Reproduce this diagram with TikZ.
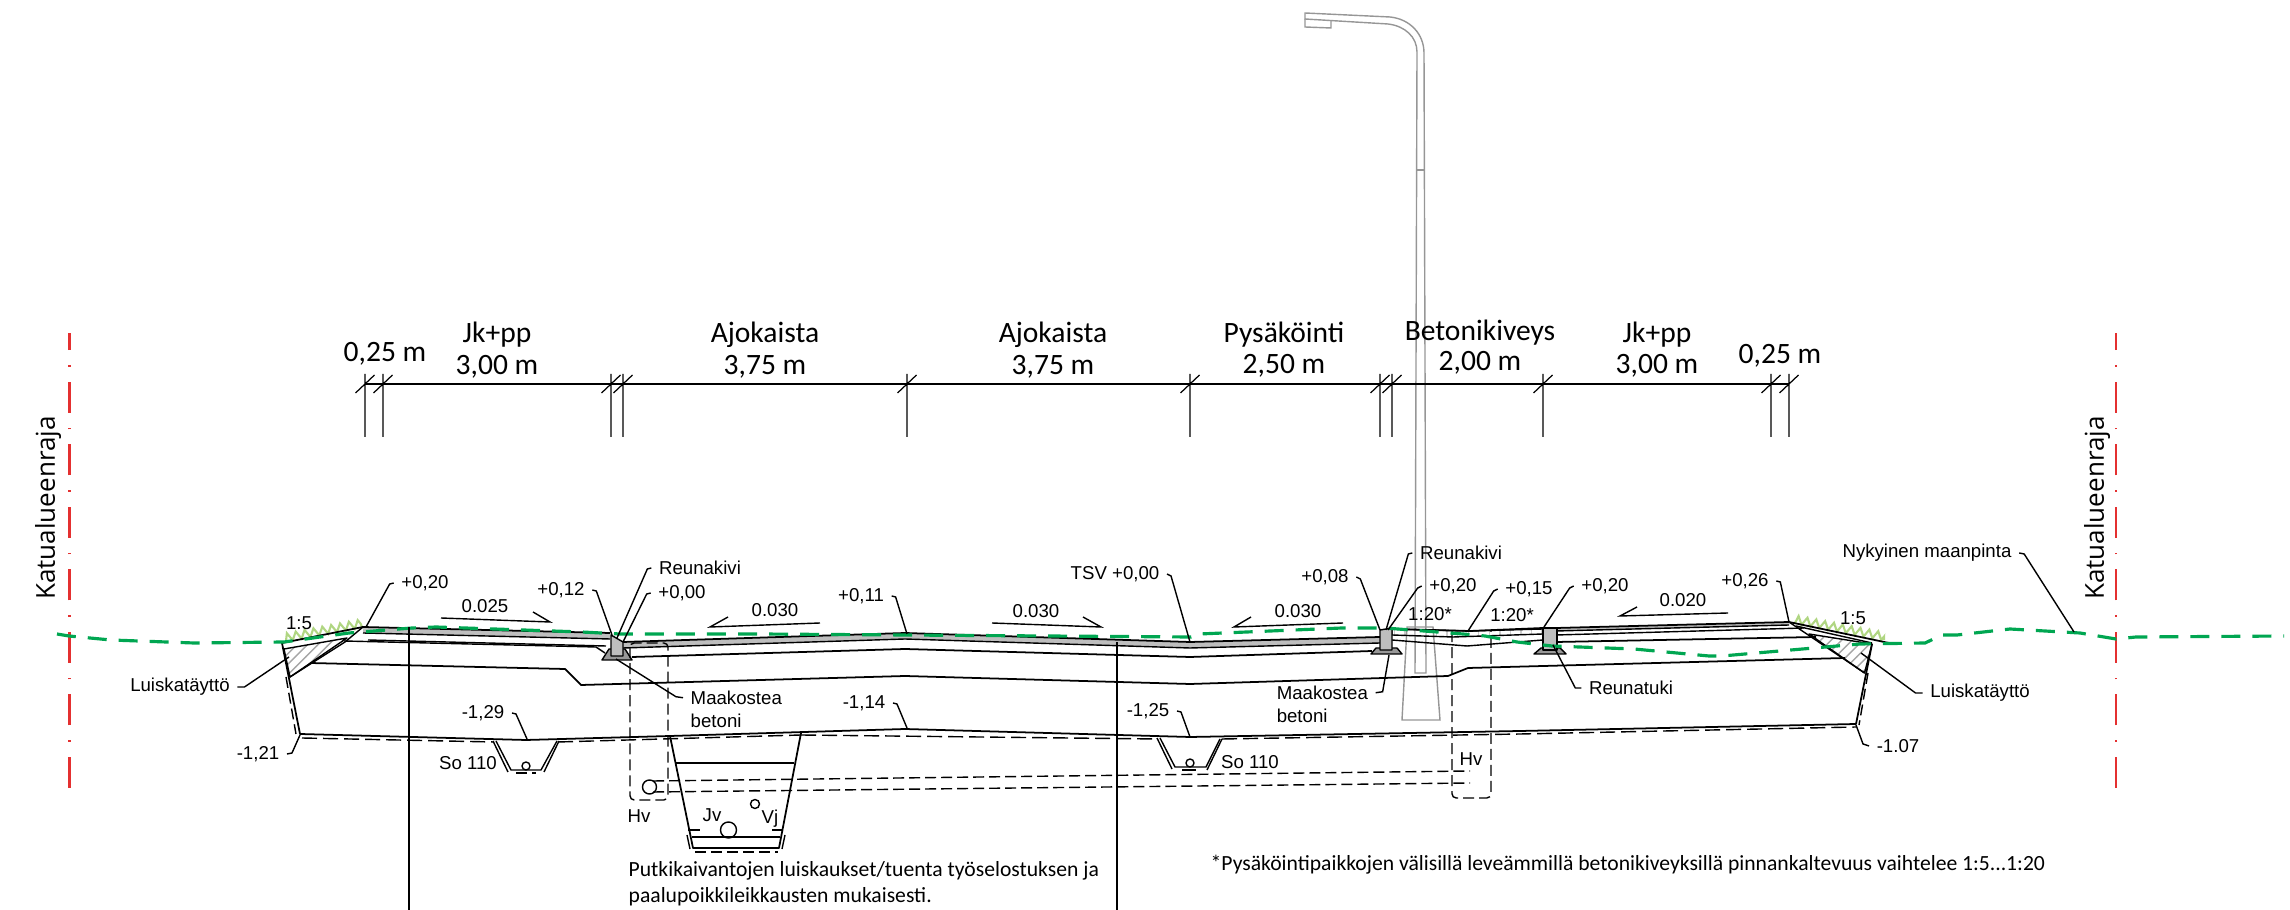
\documentclass[tikz,border=0pt]{standalone}
\usepackage{fontspec}
\setmainfont{Liberation Sans}
\newfontfamily\carlitofont{Carlito}
\newfontfamily\edgefont{Open Sans}
\usetikzlibrary{patterns,decorations.pathmorphing}
\definecolor{edgered}{RGB}{228,48,48}
\definecolor{groundgreen}{RGB}{0,166,81}
\definecolor{grassgreen}{RGB}{176,214,130}
\definecolor{postgray}{RGB}{150,150,150}
\definecolor{curbgray}{RGB}{190,190,190}

\begin{document}
\begin{tikzpicture}[x=0.01cm, y=-0.01cm,
  dimtext/.style={font=\carlitofont\fontsize{8.4}{10}\selectfont, inner sep=0pt},
  notetext/.style={font=\carlitofont\fontsize{6.15}{7.5}\selectfont, inner sep=0pt, anchor=west, align=left},
  edgetext/.style={font=\edgefont\fontsize{7.4}{9}\selectfont, rotate=90, inner sep=0pt},
  lbl/.style={font=\fontsize{5.3}{6.5}\selectfont, inner sep=2pt},
  dimline/.style={line width=0.35pt},
  road/.style={line width=0.5pt, line join=round},
  thinroad/.style={line width=0.4pt, line join=round},
  leader/.style={line width=0.4pt},
  hidden/.style={line width=0.4pt, dash pattern=on 1.1mm off 0.5mm},
  post/.style={line width=0.4pt, postgray},
  edgeline/.style={line width=0.6pt, edgered, dash pattern=on 3.1mm off 1.5mm on 0.15mm off 1.5mm},
  ground/.style={line width=0.9pt, groundgreen, dash pattern=on 1.9mm off 1.2mm},
  grass/.style={line width=0.6pt, grassgreen, decorate, decoration={zigzag, segment length=0.9mm, amplitude=0.4mm, raise=0.35mm}}]
\useasboundingbox (0,0) rectangle (2290,910);

% Street area limits
\draw[edgeline] (69.5,788) -- (69.5,333);
\draw[edgeline] (2116,788) -- (2116,333);
\node[edgetext] (limitL) at (48,508) {Katualueenraja};
\node[edgetext] (limitR) at (2097,508) {Katualueenraja};

% Lighting column
\draw[post] (1305,13) -- (1390,17) .. controls (1410,19) and (1424,34) .. (1424,53) -- (1426,673) -- (1415,673) -- (1417,52) .. controls (1417,37) and (1405,26) .. (1388,24) -- (1305,19) -- cycle;
\draw[post] (1305,19) -- (1305,27) -- (1331,28) -- (1331,21);
\draw[post] (1417,170) -- (1424,170);
\draw[post] (1407,627) -- (1433,627) -- (1440,720) -- (1402,720) -- cycle;

% Dimension line
\draw[road] (365,384) -- (1789,384);
\draw[dimline] (365,374) -- (365,437) (355.5,393) -- (374.5,375);
\draw[dimline] (383,374) -- (383,437) (373.5,393) -- (392.5,375);
\draw[dimline] (611,374) -- (611,437) (601.5,393) -- (620.5,375);
\draw[dimline] (623,374) -- (623,437) (613.5,393) -- (632.5,375);
\draw[dimline] (907,374) -- (907,437) (897.5,393) -- (916.5,375);
\draw[dimline] (1190,374) -- (1190,437) (1180.5,393) -- (1199.5,375);
\draw[dimline] (1380,374) -- (1380,437) (1370.5,393) -- (1389.5,375);
\draw[dimline] (1392,374) -- (1392,437) (1382.5,393) -- (1401.5,375);
\draw[dimline] (1543,374) -- (1543,437) (1533.5,393) -- (1552.5,375);
\draw[dimline] (1771,374) -- (1771,437) (1761.5,393) -- (1780.5,375);
\draw[dimline] (1789,374) -- (1789,437) (1779.5,393) -- (1798.5,375);
% Dimension texts
\node[dimtext] (w1) at (385,354) {0,25 m};
\node[dimtext] (t2) at (497,335) {Jk+pp};
\node[dimtext] (w2) at (497,367) {3,00 m};
\node[dimtext] (t3) at (765,335) {Ajokaista};
\node[dimtext] (w3) at (765,367) {3,75 m};
\node[dimtext] (t4) at (1053,335) {Ajokaista};
\node[dimtext] (w4) at (1053,367) {3,75 m};
\node[dimtext] (t5) at (1284,335) {Pysäköinti};
\node[dimtext] (w5) at (1284,366) {2,50 m};
\node[dimtext] (t6) at (1480,333) {Betonikiveys};
\node[dimtext] (w6) at (1480,363) {2,00 m};
\node[dimtext] (t7) at (1657,335) {Jk+pp};
\node[dimtext] (w7) at (1657,366) {3,00 m};
\node[dimtext] (w8) at (1780,356) {0,25 m};

% Slopes
\draw[grass] (286,641) -- (362,627);
\draw[grass] (1795,623) -- (1884,640);
\draw[thinroad, pattern=north east lines, pattern color=gray!70] (284,649) -- (347,638) -- (290,677) -- cycle;
\draw[thinroad, pattern=north east lines, pattern color=gray!70] (1809,634) -- (1872,644) -- (1864.5,673) -- cycle;
\draw[road] (282,643) -- (363,627);
\draw[road] (1789,622) -- (1889,643);
\draw[thinroad] (1796,626) -- (1872,643);
\draw[thinroad] (363,627) -- (345,642) -- (290,677);
\draw[thinroad] (1789,622) -- (1864.5,673);

% Pavement layers
\fill[curbgray] (363,627) -- (610,633) -- (610,639) -- (363,633) -- cycle;
\fill[curbgray] (623,642) -- (905,633) -- (1190,642) -- (1380,637) -- (1380,643) -- (1190,648) -- (905,639) -- (623,648) -- cycle;
\fill[curbgray] (1556,628) -- (1789,622) -- (1789,625) -- (1556,631) -- cycle;
\draw[road] (363,627) -- (610,633);
\draw[thinroad] (363,633) -- (610,639);
\draw[thinroad] (368,640) -- (606,646);
\draw[road] (623,642) -- (905,633) -- (1190,642) -- (1380,637);
\draw[thinroad] (623,648) -- (905,639) -- (1190,648) -- (1380,643);
\draw[thinroad] (344,641) -- (596,647) -- (605,653);
\draw[road] (632,657) -- (905,649) -- (1190,657) -- (1372,651);
\draw[road] (310,663) -- (565,669) -- (581,685) -- (905,676) -- (1190,684) -- (1448,676) -- (1468,668) -- (1845,658);
\draw[thinroad, pattern=vertical lines, pattern color=gray!40] (1392,635) -- (1453,637) -- (1543,634) -- (1543,629) -- (1470,631) -- (1392,629) -- cycle;
\draw[road] (1392,629) -- (1470,631) -- (1543,628);
\draw[thinroad] (1392,640) -- (1467,646) -- (1543,640);
\draw[road] (1556,628) -- (1789,622);
\draw[thinroad] (1556,631) -- (1789,625);
\draw[thinroad] (1556,635) -- (1804,628);
\draw[road] (1556,642) -- (1816,637);

% Formation level
\draw[road] (282,643) -- (300,734) -- (526,740) -- (670,736) -- (905,729) -- (1190,737) -- (1520,731) -- (1856,724) -- (1872,644);
\draw[hidden] (286,677) -- (296,734);
\draw[hidden] (1868,673) -- (1859,725);
\draw[hidden, dash pattern=on 1.5mm off 0.6mm] (302,738) -- (494,742);
\draw[hidden, dash pattern=on 1.5mm off 0.6mm] (558,742) -- (801,735);
\draw[hidden, dash pattern=on 1.5mm off 0.6mm] (801,735) -- (1158,739);
\draw[hidden, dash pattern=on 1.5mm off 0.6mm] (1222,739) -- (1520,734) -- (1856,727);

% Curbs
\draw[thinroad, fill=curbgray!80!black] (602,660) -- (609,649) -- (625,649) -- (632,660) -- cycle;
\draw[thinroad, fill=curbgray] (611,635) -- (623,642) -- (623,656) -- (611,656) -- cycle;
\draw[thinroad, fill=curbgray!80!black] (1371,654) -- (1376,648) -- (1397,648) -- (1402,654) -- cycle;
\draw[thinroad, fill=curbgray] (1380,630) -- (1392,628) -- (1392,650) -- (1380,650) -- cycle;
\draw[thinroad, fill=curbgray!80!black] (1534,654) -- (1541,648) -- (1560,648) -- (1566,654) -- cycle;
\draw[thinroad, fill=curbgray] (1543,628) -- (1557,628) -- (1557,650) -- (1543,650) -- cycle;

% Small trenches
\draw[thinroad] (496,741) -- (511,770) -- (541,770) -- (557,741);
\draw[thinroad] (493,741) -- (508,772);
\draw[thinroad] (559,741) -- (544,772);
\draw[hidden] (516,773) -- (536,773);
\draw[thinroad] (526,766) circle (4);
\draw[thinroad] (1160,738) -- (1175,767) -- (1206,767) -- (1220,739);
\draw[thinroad] (1157,738) -- (1172,769);
\draw[thinroad] (1222,739) -- (1207,770);
\draw[thinroad] (1182,770) -- (1196,770);
\draw[thinroad] (1190,763) circle (4);

% Main pipe trench
\draw[road] (670,736) -- (693,848) -- (779,848) -- (801,733);
\draw[road] (676,763) -- (794,763);
\draw[thinroad] (692,837) -- (780,837);
\draw[hidden] (695,852) -- (778,852);
\draw[thinroad] (687,835) -- (690,849);
\draw[thinroad] (785,835) -- (782,849);
\draw[thinroad] (688,830) -- (700,830);
\draw[thinroad] (772,830) -- (782,830);
\draw[thinroad] (728.5,830) circle (8);
\draw[thinroad] (755,804) circle (4.5);
\draw[thinroad] (649.5,787) circle (7);
% Pipes towards the far side
\draw[hidden] (653,781) -- (1470,771);
\draw[hidden] (653,792) -- (1470,783);
\draw[hidden, rounded corners=1.2pt] (630,643) -- (630,800) -- (668,800) -- (668,643) -- cycle;
\draw[hidden, rounded corners=1.2pt] (1452,631) -- (1452,798) -- (1491,798) -- (1491,631);

% Existing ground
\draw[ground] (57,634) -- (69,636) -- (111,640) -- (194,643) -- (284,642) -- (349,633) -- (412,628) -- (436,627) -- (582,632) -- (620,634) -- (760,634) -- (905,635) -- (1191,637) -- (1199,634) -- (1342,628) -- (1385,628) -- (1463,634) -- (1485,636) -- (1517,642) -- (1552,646) -- (1634,649) -- (1709,656) -- (1722,656) -- (1860,644) -- (1925,643) -- (1942,635) -- (1957,635) -- (2010,629) -- (2080,633) -- (2116,639) -- (2136,637) -- (2284,636);

% Slope arrows
\node[lbl] (s1) at (485,606) {0.025};
\draw[leader] (441,618) -- (550,622) -- (533,612);
\node[lbl] (s2) at (775,610) {0.030};
\draw[leader] (820,623) -- (710,627) -- (728,617);
\node[lbl] (s3) at (1036,611) {0.030};
\draw[leader] (992,623) -- (1101,627) -- (1083,617);
\node[lbl] (s4) at (1298,611) {0.030};
\draw[leader] (1343,623) -- (1234,627) -- (1251,617);
\node[lbl] (s5) at (1683,600) {0.020};
\draw[leader] (1728,613) -- (1620,616) -- (1637,607);
\node[lbl] (r1) at (299,623) {1:5};
\node[lbl] (r2) at (1430,614) {1:20*};
\node[lbl] (r3) at (1512,615) {1:20*};
\node[lbl] (r4) at (1853,618) {1:5};

% Labels with leaders
\coordinate (a1) at (366,627);
\node[lbl] (h1) at (425,583) {+0,20};
\draw[leader] (h1.west) -- ++(-4,1) -- (a1);
\coordinate (a2) at (612,635);
\node[lbl] (h2) at (561,590) {+0,12};
\draw[leader] (h2.east) -- ++(4,1) -- (a2);
\coordinate (a3) at (617,638);
\node[lbl] (n1) at (700,568) {Reunakivi};
\draw[leader] (n1.west) -- ++(-4,1) -- (a3);
\coordinate (a4) at (623,642);
\node[lbl] (h3) at (682,593) {+0,00};
\draw[leader] (h3.west) -- ++(-4,1) -- (a4);
\coordinate (a5) at (907,634);
\node[lbl] (h4) at (861,596) {+0,11};
\draw[leader] (h4.east) -- ++(4,1) -- (a5);
\coordinate (a6) at (1190,642);
\node[lbl] (h5) at (1115,574) {TSV +0,00};
\draw[leader] (h5.east) -- ++(4,2) -- (a6);
\coordinate (a7) at (1380,630);
\node[lbl] (h6) at (1325,577) {+0,08};
\draw[leader] (h6.east) -- ++(4,2) -- (a7);
\coordinate (a8) at (1386,630);
\node[lbl] (n2) at (1461,553) {Reunakivi};
\draw[leader] (n2.west) -- ++(-4,1) -- (a8);
\coordinate (a9) at (1388,630);
\node[lbl] (h7) at (1453,586) {+0,20};
\draw[leader] (h7.west) -- ++(-4,2) -- (a9);
\coordinate (a10) at (1468,631);
\node[lbl] (h8) at (1529,589) {+0,15};
\draw[leader] (h8.west) -- ++(-4,2) -- (a10);
\coordinate (a11) at (1544,627);
\node[lbl] (h9) at (1605,586) {+0,20};
\draw[leader] (h9.west) -- ++(-4,2) -- (a11);
\coordinate (a12) at (1789,622);
\node[lbl] (h10) at (1745,581) {+0,26};
\draw[leader] (h10.east) -- ++(4,1) -- (a12);
\coordinate (a13) at (2074,632);
\node[lbl] (n3) at (1927,553) {Nykyinen maanpinta};
\draw[leader] (n3.east) -- ++(5,1) -- (a13);
\coordinate (a14) at (1861,653);
\node[lbl] (n4) at (1980,693) {Luiskatäyttö};
\draw[leader] (n4.west) -- ++(-7,0) -- (a14);
\coordinate (a15) at (1553,645);
\node[lbl] (n5) at (1631,688) {Reunatuki};
\draw[leader] (n5.west) -- ++(-6,0) -- (a15);
\coordinate (a16) at (1856,725);
\node[lbl] (h11) at (1898,746) {-1.07};
\draw[leader] (h11.west) -- ++(-6,-2) -- (a16);
\coordinate (a17) at (289,657);
\node[lbl] (n6) at (180,687) {Luiskatäyttö};
\draw[leader] (n6.east) -- ++(7,0) -- (a17);
\coordinate (a18) at (300,735);
\node[lbl] (h12) at (258,754) {-1,21};
\draw[leader] (h12.east) -- ++(5,-1) -- (a18);
\coordinate (a19) at (527,739);
\node[lbl] (h13) at (483,713) {-1,29};
\draw[leader] (h13.east) -- ++(4,1) -- (a19);
\coordinate (a20) at (907,728);
\node[lbl] (h14) at (864,703) {-1,14};
\draw[leader] (h14.east) -- ++(4,1) -- (a20);
\coordinate (a21) at (1190,737);
\node[lbl] (h15) at (1148,711) {-1,25};
\draw[leader] (h15.east) -- ++(4,1) -- (a21);
\coordinate (a22) at (616,659);
\node[lbl, anchor=west, align=left] (n7) at (683,709) {Maakostea\\betoni};
\draw[leader] ([yshift=3.2pt]n7.west) -- ++(-7,-1) -- (a22);
\coordinate (a23) at (1389,655);
\node[lbl, anchor=west, align=left] (n8) at (1269,704) {Maakostea\\betoni};
\draw[leader] ([yshift=3.2pt]n8.east) -- ++(7,-1) -- (a23);

% Pipe and trench texts
\node[lbl] (p1) at (468,763) {So 110};
\node[lbl] (p2) at (1250,762) {So 110};
\node[lbl] (p3) at (639,816) {Hv};
\node[lbl] (p4) at (1471,759) {Hv};
\node[lbl] (p5) at (712,815) {Jv};
\node[lbl] (p6) at (770,819) {Vj};

% Notes
\node[notetext] (note1) at (628,884) {Putkikaivantojen luiskaukset/tuenta työselostuksen ja\\paalupoikkileikkausten mukaisesti.};
\node[notetext] (note2) at (1210,865) {*Pysäköintipaikkojen välisillä leveämmillä betonikiveyksillä pinnankaltevuus vaihtelee 1:5...1:20};

% Grid axes running out of the picture
\coordinate (axis1) at (409,910);
\coordinate (axis2) at (1117,910);
\draw[dimline] (409,627) -- (axis1);
\draw[dimline] (1117,642) -- (axis2);
\end{tikzpicture}
\end{document}
